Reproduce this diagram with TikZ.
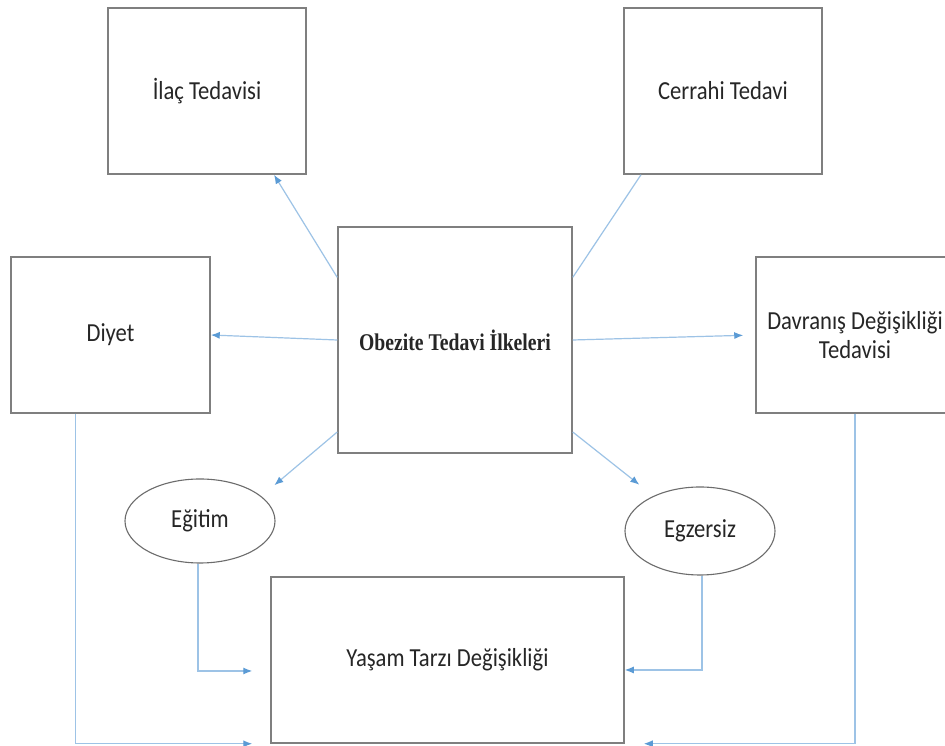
\documentclass[tikz,border=0pt]{standalone}
\usepackage{fontspec}
\setmainfont[FakeStretch=0.87]{Carlito}
\newfontfamily\headfont[FakeStretch=0.82]{Liberation Serif}
\usetikzlibrary{arrows.meta,shapes.geometric}
\definecolor{boxgray}{HTML}{7F7F7F}
\definecolor{linkblue}{HTML}{9DC3E6}
\definecolor{tipblue}{HTML}{5B9BD5}
\begin{document}
\begin{tikzpicture}
	[x=1pt, y=1pt,
	box/.style ={draw=boxgray, line width=1.5pt, inner sep=0pt, align=center, text=black!85, font=\fontsize{26}{29}\selectfont},
	oval/.style ={ellipse, draw=boxgray!85!black, line width=1.1pt, inner sep=0pt, minimum width=150pt, text=black!85, font=\fontsize{26}{29}\selectfont},
	link/.style ={draw=linkblue, line width=1.2pt},
	arr/.style ={link, -{Latex[length=9pt, width=7pt, color=tipblue]}}]
	\clip (0,0) rectangle (945,746);
	\fill[white] (0,0) rectangle (945,746);
	\node[box, minimum width=234pt, minimum height=226pt] (ilkeler) at (455,406) {\headfont\bfseries\fontsize{24}{28}\selectfont Obezite Tedavi İlkeleri};
	\node[box, minimum width=198pt, minimum height=166pt] (ilac) at (207,655) {İlaç Tedavisi};
	\node[box, minimum width=198pt, minimum height=166pt] (cerrahi) at (723,655) {Cerrahi Tedavi};
	\node[box, minimum width=199pt, minimum height=156pt] (diyet) at (110.5,411) {Diyet};
	\node[box, minimum width=198pt, minimum height=156pt] (davranis) at (855,411) {Davranış Değişikliği\\Tedavisi};
	\node[oval, minimum height=84pt] (egitim) at (200,225) {Eğitim};
	\node[oval, minimum height=88pt] (egzersiz) at (700,215) {Egzersiz};
	\node[box, minimum width=353pt, minimum height=166pt] (yasam) at (447.5,86) {Yaşam Tarzı Değişikliği};
	\path (ilkeler.152) edge[arr] ([xshift=67pt]ilac.south)
	(ilkeler.west) edge[arr] (diyet.east)
	(ilkeler.east) edge[arr, shorten >=12pt] (davranis.west)
	(ilkeler.218) edge[arr, shorten >=17pt] (egitim.22)
	(ilkeler.322) edge[arr, shorten >=18pt] (egzersiz.143)
	(ilkeler.28) edge[link] ([xshift=-82pt]cerrahi.south);
	\draw[arr, shorten >=18pt] ([xshift=-2pt]egitim.south) |- ([yshift=-11pt]yasam.west);
	\draw[arr] ([xshift=2pt]egzersiz.south) |- ([yshift=-10pt]yasam.east);
	\draw[arr, shorten >=18pt] ([xshift=-35pt]diyet.south) |- (yasam.south west);
	\draw[arr, shorten >=19pt] (davranis.south) |- (yasam.south east);
\end{tikzpicture}
\end{document}
